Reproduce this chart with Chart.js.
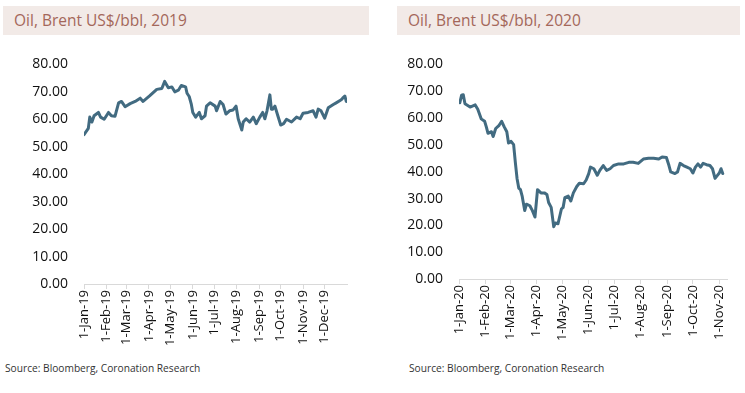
<!DOCTYPE html>
<html>
<head>
<meta charset="utf-8">
<script src="https://cdn.jsdelivr.net/npm/chart.js@4"></script>
<style>
  html, body { margin: 0; padding: 0; background: #ffffff; }
  body { width: 745px; height: 393px; position: relative; overflow: hidden; font-family: "Open Sans", sans-serif; }
  .band { position: absolute; top: 6px; height: 29px; background: #f2eae7; }
  .title { position: absolute; top: 0; left: 11px; line-height: 29px; font-size: 15.5px; color: #a4675a; white-space: nowrap; }
  .src { position: absolute; top: 361px; font-size: 10.2px; color: #333333; white-space: nowrap; }
  .cv { position: absolute; top: 40px; height: 310px; }
</style>
</head>
<body>
<div class="band" style="left:3px;width:366px;"><div class="title" id="t1"></div></div>
<div class="band" style="left:397px;width:343px;"><div class="title" id="t2"></div></div>
<div class="cv" style="left:0;width:372px;"><canvas id="c1" width="372" height="310"></canvas></div>
<div class="cv" style="left:372px;width:373px;"><canvas id="c2" width="373" height="310"></canvas></div>
<div class="src" style="left:5px;" id="s1"></div>
<div class="src" style="left:409px;" id="s2"></div>
<script>
const title2019 = "Oil, Brent US$/bbl, 2019";
const title2020 = "Oil, Brent US$/bbl, 2020";
const sourceText = "Source: Bloomberg, Coronation Research";

const yTicks = [0, 10, 20, 30, 40, 50, 60, 70, 80];

const dates2019 = ["2019-01-01","2019-01-07","2019-01-09","2019-01-12","2019-01-15","2019-01-21","2019-01-24","2019-01-29",
  "2019-02-04","2019-02-08","2019-02-13","2019-02-18","2019-02-22","2019-02-27","2019-03-06","2019-03-13","2019-03-20","2019-03-24",
  "2019-04-02","2019-04-12","2019-04-19","2019-04-23","2019-04-28","2019-05-03","2019-05-07","2019-05-12","2019-05-16","2019-05-22",
  "2019-05-24","2019-05-27","2019-05-30","2019-06-01","2019-06-05","2019-06-10","2019-06-13","2019-06-18","2019-06-20","2019-06-25",
  "2019-07-02","2019-07-04","2019-07-09","2019-07-13","2019-07-17","2019-07-22","2019-07-27","2019-07-31","2019-08-03","2019-08-08",
  "2019-08-10","2019-08-14","2019-08-19","2019-08-24","2019-08-28","2019-09-02","2019-09-06","2019-09-09","2019-09-12","2019-09-16",
  "2019-09-18","2019-09-20","2019-09-23","2019-09-27","2019-10-01","2019-10-05","2019-10-09","2019-10-16","2019-10-23","2019-10-28",
  "2019-11-01","2019-11-08","2019-11-15","2019-11-19","2019-11-22","2019-11-26","2019-12-01","2019-12-06","2019-12-13","2019-12-17",
  "2019-12-24","2019-12-26","2019-12-29","2019-12-31"];
const brent2019 = [54.4,56.7,60.8,59.0,61.3,62.5,60.8,60.0,
  62.5,61.3,61.1,66.0,66.5,64.6,65.7,66.5,67.7,66.5,
  68.5,70.9,71.2,73.8,71.5,71.8,70.0,70.6,72.3,71.8,
  69.5,68.3,65.4,62.5,60.8,62.5,60.2,61.3,64.8,66.0,
  64.8,63.1,66.5,65.4,61.9,63.1,63.4,64.8,60.2,56.1,
  59.0,60.2,59.0,60.8,58.4,60.8,62.5,60.2,63.1,68.9,
  63.7,63.7,64.8,61.3,57.9,58.4,60.0,59.0,60.8,60.2,
  62.2,62.5,63.1,60.8,63.7,63.1,60.4,64.2,65.4,66.0,
  67.1,67.7,68.5,66.5];
const ticks2019 = ["1-Jan-19","1-Feb-19","1-Mar-19","1-Apr-19","1-May-19","1-Jun-19","1-Jul-19","1-Aug-19","1-Sep-19","1-Oct-19","1-Nov-19","1-Dec-19"];
const tickDates2019 = ["2019-01-01","2019-02-01","2019-03-01","2019-04-01","2019-05-01","2019-06-01","2019-07-01","2019-08-01","2019-09-01","2019-10-01","2019-11-01","2019-12-01"];

const dates2020 = ["2020-01-02","2020-01-04","2020-01-06","2020-01-08","2020-01-14","2020-01-20","2020-01-23","2020-01-27","2020-01-31",
  "2020-02-02","2020-02-04","2020-02-08","2020-02-10","2020-02-13","2020-02-17","2020-02-20","2020-02-23","2020-02-26","2020-02-28",
  "2020-03-02","2020-03-05","2020-03-07","2020-03-09","2020-03-11","2020-03-13","2020-03-15","2020-03-16","2020-03-18","2020-03-20",
  "2020-03-24","2020-03-27","2020-03-30","2020-04-02","2020-04-06","2020-04-10","2020-04-13","2020-04-15","2020-04-18","2020-04-21",
  "2020-04-23","2020-04-26","2020-04-30","2020-05-02","2020-05-04","2020-05-08","2020-05-11","2020-05-14","2020-05-18","2020-05-21",
  "2020-05-26","2020-05-29","2020-06-01","2020-06-03","2020-06-07","2020-06-11","2020-06-14","2020-06-18","2020-06-22","2020-06-26",
  "2020-06-30","2020-07-06","2020-07-12","2020-07-18","2020-07-23","2020-07-29","2020-08-04","2020-08-10","2020-08-16","2020-08-22",
  "2020-08-26","2020-08-31","2020-09-03","2020-09-05","2020-09-10","2020-09-13","2020-09-16","2020-09-20","2020-09-24","2020-09-28",
  "2020-10-01","2020-10-04","2020-10-07","2020-10-10","2020-10-13","2020-10-17","2020-10-21","2020-10-24","2020-10-27","2020-10-30",
  "2020-11-01","2020-11-03","2020-11-05"];
const brent2020 = [65.7,68.5,68.7,65.3,64.1,64.9,63.3,59.7,58.8,
  56.7,54.3,54.9,53.1,56.1,57.3,58.8,56.7,54.9,50.7,
  51.3,50.1,43.5,37.5,33.9,33.3,30.9,29.1,25.5,27.9,
  27.3,25.5,23.1,33.3,32.1,32.1,31.5,28.5,26.7,19.5,
  20.9,20.6,26.1,26.7,30.3,30.9,29.1,32.1,34.5,35.7,
  35.5,36.9,39.3,41.7,41.1,38.7,40.5,42.3,40.5,41.1,
  42.3,42.9,42.9,43.5,43.5,43.1,44.7,45.0,45.0,44.7,
  45.5,45.3,42.3,39.9,39.3,39.9,43.1,42.3,41.7,41.1,
  39.5,41.7,42.9,41.7,43.1,42.6,42.3,41.1,37.5,38.7,
  39.5,41.1,39.3];
const ticks2020 = ["1-Jan-20","1-Feb-20","1-Mar-20","1-Apr-20","1-May-20","1-Jun-20","1-Jul-20","1-Aug-20","1-Sep-20","1-Oct-20","1-Nov-20"];
const tickDates2020 = ["2020-01-01","2020-02-01","2020-03-01","2020-04-01","2020-05-01","2020-06-01","2020-07-01","2020-08-01","2020-09-01","2020-10-01","2020-11-01"];

document.getElementById('t1').textContent = title2019;
document.getElementById('t2').textContent = title2020;
document.getElementById('s1').textContent = sourceText;
document.getElementById('s2').textContent = sourceText;

const FONT = '"Open Sans", sans-serif';
const LINE = '#426b81';
const AXIS = '#d9d9d9';

function dayOf(s, year) {
  return (Date.parse(s + 'T00:00:00Z') - Date.UTC(year, 0, 1)) / 86400000;
}

function makeChart(id, year, dates, values, tickDates, tickLabels, xMax, pad, xHeight) {
  const pts = dates.map((d, i) => ({ x: dayOf(d, year), y: values[i] }));
  const tickVals = tickDates.map(d => dayOf(d, year));
  new Chart(document.getElementById(id), {
    type: 'line',
    data: { datasets: [{ data: pts, borderColor: LINE, borderWidth: 3, pointRadius: 0, tension: 0, fill: false, borderJoinStyle: 'round', borderCapStyle: 'round' }] },
    options: {
      responsive: false, animation: false, maintainAspectRatio: false,
      layout: { padding: { top: pad.top, right: pad.right, left: 0, bottom: 0 } },
      plugins: { legend: { display: false }, tooltip: { enabled: false }, title: { display: false } },
      scales: {
        x: {
          type: 'linear', min: 0, max: xMax,
          afterBuildTicks: s => { s.ticks = tickVals.map(v => ({ value: v })); },
          afterFit: s => { s.height = xHeight; },
          grid: { display: true, drawOnChartArea: false, drawTicks: true, tickLength: 5, color: AXIS, lineWidth: 1 },
          border: { display: true, color: AXIS, width: 1 },
          ticks: {
            autoSkip: false, maxRotation: 90, minRotation: 90, padding: 1,
            color: '#111111', font: { family: FONT, size: 13 },
            callback: v => { const i = tickVals.indexOf(v); return i >= 0 ? tickLabels[i] : ''; }
          }
        },
        y: {
          min: 0, max: 80,
          afterBuildTicks: s => { s.ticks = yTicks.map(v => ({ value: v })); },
          afterFit: s => { s.width = pad.left; },
          grid: { display: false, drawTicks: false },
          border: { display: false },
          ticks: { padding: 16, color: '#111111', font: { family: FONT, size: 14 }, callback: v => v.toFixed(2) }
        }
      }
    }
  });
}

makeChart('c1', 2019, dates2019, brent2019, tickDates2019, ticks2019, 365, { top: 13, right: 25, left: 84 }, 66);
makeChart('c2', 2020, dates2020, brent2020, tickDates2020, ticks2020, 314, { top: 17, right: 18, left: 87 }, 71);
</script>
</body>
</html>
